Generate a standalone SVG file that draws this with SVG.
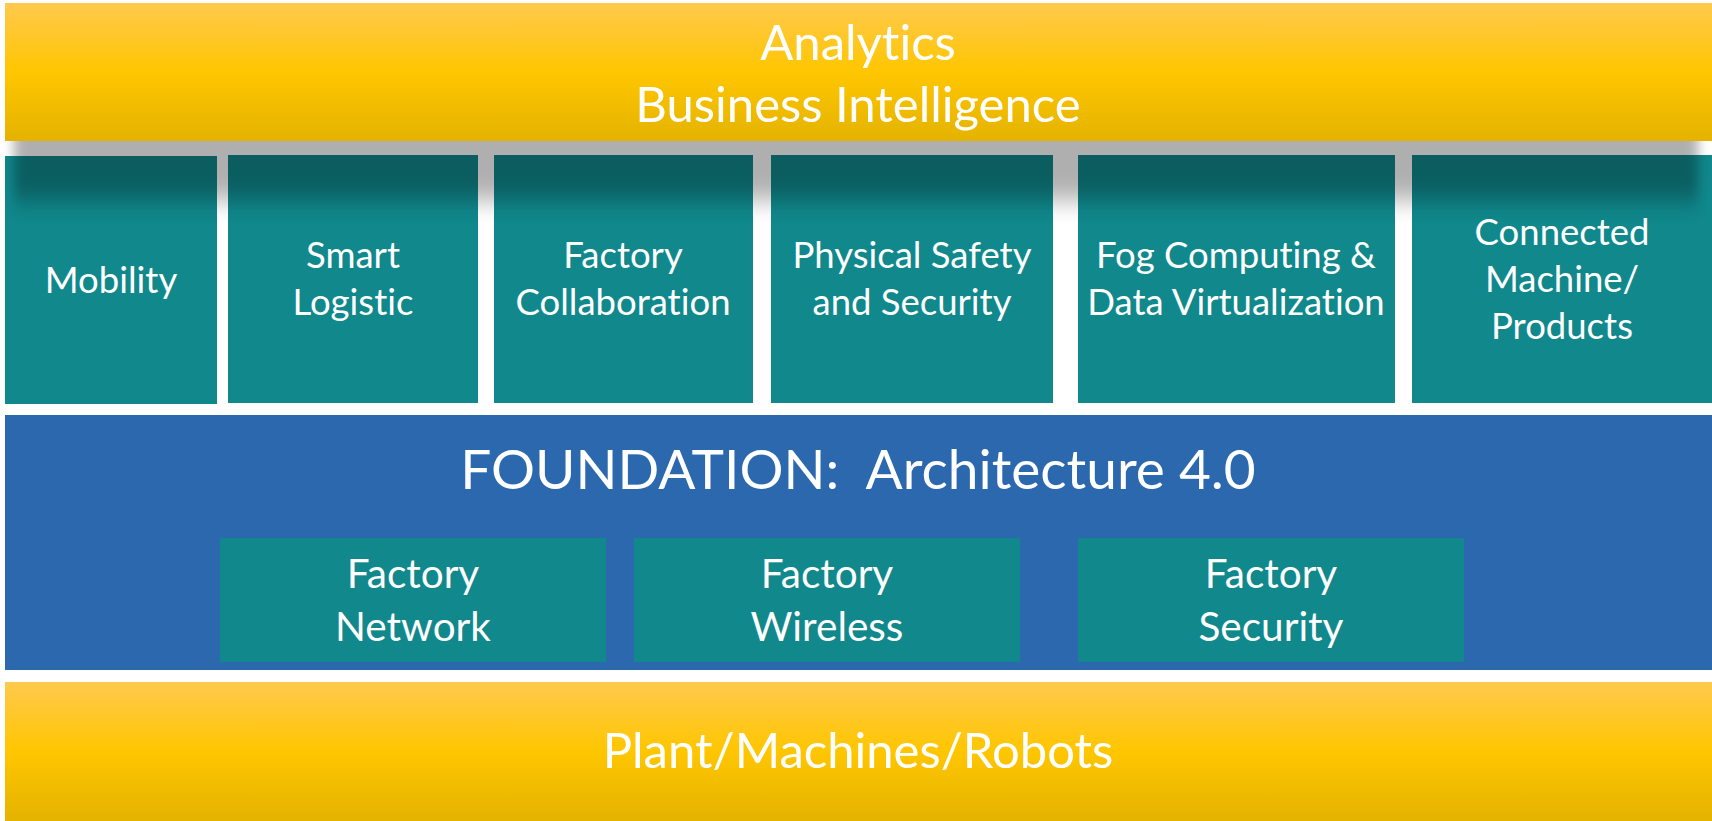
<svg xmlns="http://www.w3.org/2000/svg" width="1712" height="821" viewBox="0 0 1712 821">
<defs>
<linearGradient id="gold" x1="0" y1="0" x2="0" y2="1">
<stop offset="0" stop-color="#ffc94e"/>
<stop offset="0.5" stop-color="#ffc600"/>
<stop offset="1" stop-color="#e4b300"/>
</linearGradient>
<filter id="blur" filterUnits="userSpaceOnUse" x="-50" y="40" width="1812" height="240">
<feGaussianBlur stdDeviation="6 12"/>
</filter>
<style>
.gold{fill:url(#gold);}
.tile{fill:#10888c;}
.band{fill:#2b68ae;}
.t{font-family:Lato,"Open Sans","Liberation Sans",sans-serif;fill:#ffffff;text-anchor:middle;font-variant-ligatures:none;font-feature-settings:"liga" 0;}
.big{font-size:49px;}
.mid{font-size:36.5px;}
.sub{font-size:40.5px;}
.found{font-size:55px;}
</style>
</defs>
<rect width="1712" height="821" fill="#ffffff"/>

<g id="tiles">
<g id="mobility">
<rect class="tile" x="5" y="156" width="212" height="248"/>
<text class="t mid" x="111" y="293">Mobility</text>
</g>
<g id="smart-logistic">
<rect class="tile" x="228" y="155" width="250" height="248"/>
<text class="t mid" x="353" y="268">Smart</text>
<text class="t mid" x="353" y="315">Logistic</text>
</g>
<g id="factory-collaboration">
<rect class="tile" x="494" y="155" width="259" height="248"/>
<text class="t mid" x="623" y="268">Factory</text>
<text class="t mid" x="623" y="315">Collaboration</text>
</g>
<g id="physical-safety">
<rect class="tile" x="771" y="155" width="282" height="248"/>
<text class="t mid" x="912" y="268">Physical Safety</text>
<text class="t mid" x="912" y="315">and Security</text>
</g>
<g id="fog-computing">
<rect class="tile" x="1078" y="155" width="317" height="248"/>
<text class="t mid" x="1236" y="268">Fog Computing &amp;</text>
<text class="t mid" x="1236" y="315">Data Virtualization</text>
</g>
<g id="connected-machine">
<rect class="tile" x="1412" y="155" width="300" height="248"/>
<text class="t mid" x="1562" y="245">Connected</text>
<text class="t mid" x="1562" y="292">Machine/</text>
<text class="t mid" x="1562" y="339">Products</text>
</g>
</g>

<rect x="14" y="100" width="1684" height="100" fill="#000000" opacity="0.31" filter="url(#blur)"/>

<g id="analytics">
<rect class="gold" x="5" y="3" width="1707" height="138"/>
<text class="t big" x="858" y="60">Analytics</text>
<text class="t big" x="858" y="122">Business Intelligence</text>
</g>

<g id="foundation">
<rect class="band" x="5" y="415" width="1707" height="255"/>
<text class="t found" x="858" y="489" xml:space="preserve">FOUNDATION:  Architecture 4.0</text>
</g>
<g id="factory-network">
<rect class="tile" x="220" y="538" width="386" height="124"/>
<text class="t sub" x="413" y="588">Factory</text>
<text class="t sub" x="413" y="641">Network</text>
</g>
<g id="factory-wireless">
<rect class="tile" x="634" y="538" width="386" height="124"/>
<text class="t sub" x="827" y="588">Factory</text>
<text class="t sub" x="827" y="641">Wireless</text>
</g>
<g id="factory-security">
<rect class="tile" x="1078" y="538" width="386" height="124"/>
<text class="t sub" x="1271" y="588">Factory</text>
<text class="t sub" x="1271" y="641">Security</text>
</g>

<g id="plant">
<rect class="gold" x="5" y="682" width="1707" height="139"/>
<text class="t big" x="858" y="768">Plant/Machines/Robots</text>
</g>
<g id="connectors"/>
</svg>
